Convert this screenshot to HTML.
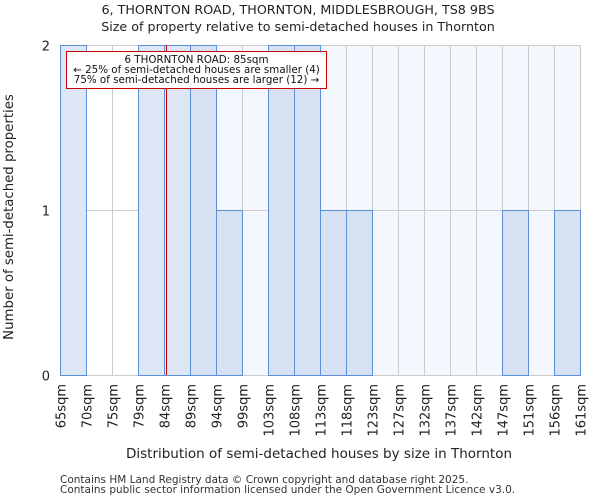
<!DOCTYPE html>
<html><head><meta charset="utf-8"><style>
body{margin:0;background:#fff;font-family:"DejaVu Sans","Liberation Sans",sans-serif;}
svg text{font-family:"DejaVu Sans","Liberation Sans",sans-serif;}
</style></head><body>
<svg id="chart" width="600" height="500" xmlns="http://www.w3.org/2000/svg">
<text x="298" y="14" text-anchor="middle" font-size="12.7" fill="#222">6, THORNTON ROAD, THORNTON, MIDDLESBROUGH, TS8 9BS</text>
<text x="298" y="31" text-anchor="middle" font-size="12.7" fill="#222">Size of property relative to semi-detached houses in Thornton</text>
<g id="plot"></g>
<text x="319" y="458" text-anchor="middle" font-size="13.5" fill="#222">Distribution of semi-detached houses by size in Thornton</text>
<text transform="translate(13,217) rotate(-90)" text-anchor="middle" font-size="13.3" fill="#222">Number of semi-detached properties</text>
<text x="60" y="483" font-size="10.5" fill="#333">Contains HM Land Registry data © Crown copyright and database right 2025.</text>
<text x="60" y="493" font-size="10.5" fill="#333">Contains public sector information licensed under the Open Government Licence v3.0.</text>
</svg>
<script>
const binLabels=["65sqm","70sqm","75sqm","79sqm","84sqm","89sqm","94sqm","99sqm","103sqm","108sqm","113sqm","118sqm","123sqm","127sqm","132sqm","137sqm","142sqm","147sqm","151sqm","156sqm","161sqm"];
const counts=[2,0,0,2,2,2,1,0,2,2,1,1,0,0,0,0,0,1,0,1];
const yTicks=[0,1,2];
const propertySize=85;
const sizeStart=65.6, sizeEnd=161;
const NS="http://www.w3.org/2000/svg";
const L=60,R=580,T=45,B=375;
const n=counts.length;
const bw=(R-L)/n;
const xb=i=>Math.round(L+i*bw)+0.5;
const xv=v=>L+(v-sizeStart)/(sizeEnd-sizeStart)*(R-L);
const y=v=>Math.round(B-(v/2)*(B-T))+0.5;
const g=document.getElementById('plot');
function mk(t,a){const e=document.createElementNS(NS,t);for(const k in a)e.setAttribute(k,a[k]);g.appendChild(e);return e;}
const px=Math.round(xv(propertySize))+0.5;
let e;
e=mk('rect',{x:px,y:T,width:R-px,height:B-T,fill:'#f4f7fe'});


for(let i=0;i<=n;i++){e=mk('line',{x1:xb(i),x2:xb(i),y1:T,y2:B,stroke:'#cccccc','stroke-width':1});

}
yTicks.forEach(t=>{e=mk('line',{x1:L,x2:R,y1:y(t),y2:y(t),stroke:'#cccccc','stroke-width':1});


e=mk('text',{x:L-10,y:y(t)+5,'text-anchor':'end','font-size':13,fill:'#222'});e.textContent=t;

});
counts.forEach((c,i)=>{if(c>0){const left=xb(i)<px;
e=mk('rect',{x:xb(i),y:y(c),width:xb(i+1)-xb(i),height:y(0)-y(c),fill:left?'#dce6f4':'#d6e1f3',stroke:'#5b8fd8','stroke-width':1});

}});
binLabels.forEach((lb,i)=>{const x=xb(i);
e=mk('text',{transform:`translate(${x+5},${B+9}) rotate(-90)`,'text-anchor':'end','font-size':13,fill:'#222'});e.textContent=lb;

});
e=mk('line',{x1:px,x2:px,y1:T,y2:B,stroke:'#cc0000','stroke-width':1});


e=mk('rect',{x:66.5,y:51.5,width:260,height:37,fill:'#fff',stroke:'#cc0000','stroke-width':1});


const ann=["6 THORNTON ROAD: 85sqm","← 25% of semi-detached houses are smaller (4)","75% of semi-detached houses are larger (12) →"];
ann.forEach((s,i)=>{e=mk('text',{x:196.5,y:63+i*10,'text-anchor':'middle','font-size':10.3,fill:'#111'});e.textContent=s;

});
</script>
</body></html>
